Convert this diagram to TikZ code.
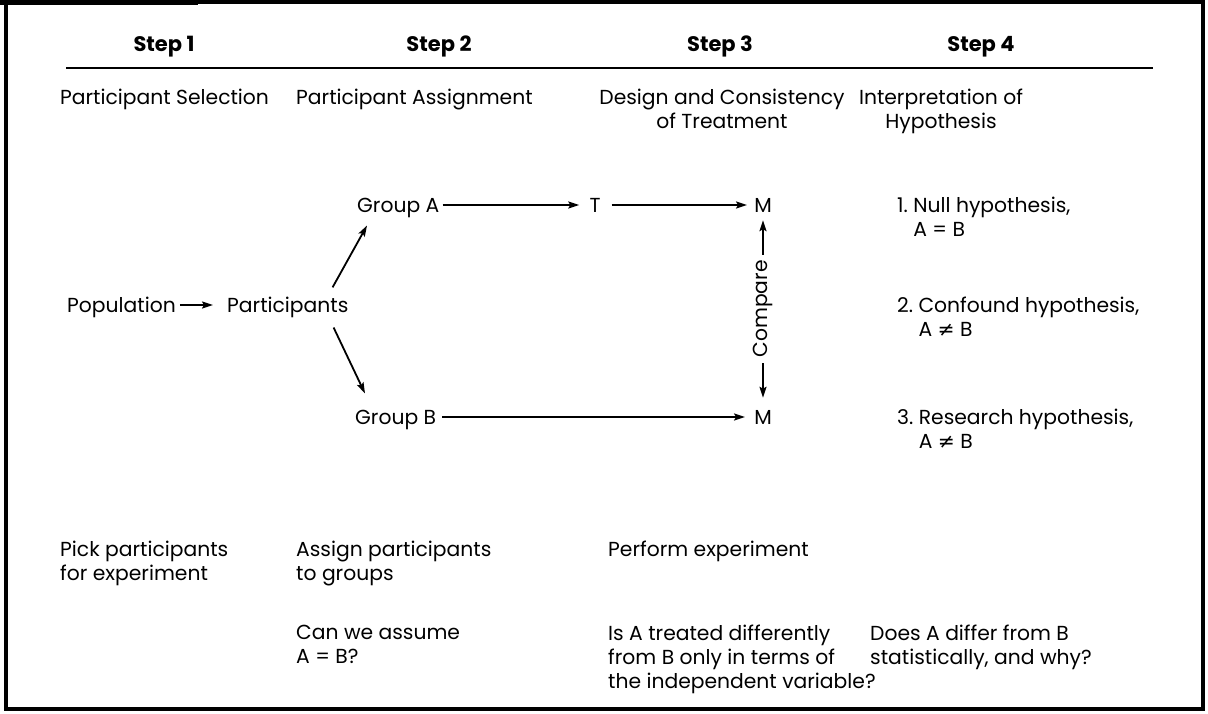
\documentclass[tikz,border=0pt]{standalone}
\usepackage{fontspec}
\setmainfont{Poppins}
\newfontfamily\symfont{DejaVu Sans}
\usetikzlibrary{arrows.meta,calc}
\newcommand{\neqsym}{{\symfont ≠}}
\begin{document}
\begin{tikzpicture}[x=1pt,y=-1pt,
  txt/.style={inner sep=0pt, font=\fontsize{20.3}{24}\selectfont},
  hdr/.style={inner sep=0pt, font=\bfseries\fontsize{21}{24}\selectfont, anchor=base},
  arr/.style={-{Stealth[length=11pt,width=7pt,inset=2pt]}, line width=1.8pt},
  darr/.style={{Stealth[length=11pt,width=7pt,inset=2pt]}-{Stealth[length=11pt,width=7pt,inset=2pt]}, line width=1.8pt},
  frame/.style={line width=3.5pt},
  rule/.style={line width=1.5pt}]
\useasboundingbox (0,0) rectangle (1208,713);
% frame
\draw[frame] (6,2) rectangle (1203,709);
\fill (0,0) rectangle (198,4.7);
% headers
\node[hdr] (s1) at (164,51) {Step 1};
\node[hdr] (s2) at (439,51) {Step 2};
\node[hdr] (s3) at (720,51) {Step 3};
\node[hdr] (s4) at (981,51) {Step 4};
\draw[rule] (66,68) -- (1153,68);
% row titles
\node[txt, anchor=base west] (t1) at (60,104) {Participant Selection};
\node[txt, anchor=base west] (t2) at (296,104) {Participant Assignment};
\node[txt, anchor=north, align=center] (t3) at (722,89) {Design and Consistency\\of Treatment};
\node[txt, anchor=north, align=center] (t4) at (941,89) {Interpretation of\\Hypothesis};
% diagram
\node[txt, anchor=base west] (ga) at (357,212) {Group A};
\node[txt, anchor=base] (t) at (595,212) {T};
\node[txt, anchor=base] (m1) at (763,212) {M};
\node[txt, anchor=base west] (pop) at (67,312) {Population};
\node[txt, anchor=base west] (part) at (227,312) {Participants};
\node[txt, anchor=base west] (gb) at (355,424) {Group B};
\node[txt, anchor=base] (m2) at (763,424) {M};
\draw[arr] ($(ga.base east)+(3,-7)$) -- ($(t.base west)+(-10,-7)$);
\draw[arr] ($(t.base east)+(11,-7)$) -- ($(m1.base west)+(-7,-7)$);
\draw[arr] ($(gb.base east)+(6,-7)$) -- ($(m2.base west)+(-9,-7)$);
\draw[arr] ($(pop.base east)+(4,-7)$) -- ($(part.base west)+(-14,-7)$);
\draw[arr] ($(part.north east)+(-16,-9)$) -- ($(ga.south west)+(10,8)$);
\draw[arr] ($(part.south east)+(-15,10)$) -- ($(gb.north west)+(10,-16)$);
\draw[darr] ($(m1.south)+(0,8)$) -- node[txt, rotate=90, fill=white, inner sep=5pt] (cmp) {Compare} ($(m2.north)+(0,-12)$);
% step 4 hypotheses
\node[txt, anchor=north west, align=left] (h1) at (897,197) {1.\ Null hypothesis,\\\hphantom{1.\ }A = B};
\node[txt, anchor=north west, align=left] (h2) at (897,297) {2.\ Confound hypothesis,\\\hphantom{2.\ }A \neqsym{} B};
\node[txt, anchor=north west, align=left] (h3) at (897,409) {3.\ Research hypothesis,\\\hphantom{3.\ }A \neqsym{} B};
% bottom rows
\node[txt, anchor=north west, align=left] (b1) at (60,541) {Pick participants\\for experiment};
\node[txt, anchor=north west, align=left] (b2) at (296,541) {Assign participants\\to groups};
\node[txt, anchor=base west] (b3) at (608,556) {Perform experiment};
\node[txt, anchor=north west, align=left] (q2) at (296,625) {Can we assume\\A = B?};
\node[txt, anchor=north west, align=left] (q3) at (608,625) {Is A treated differently\\from B only in terms of\\the independent variable?};
\node[txt, anchor=north west, align=left] (q4) at (870,625) {Does A differ from B\\statistically, and why?};
\end{tikzpicture}
\end{document}
